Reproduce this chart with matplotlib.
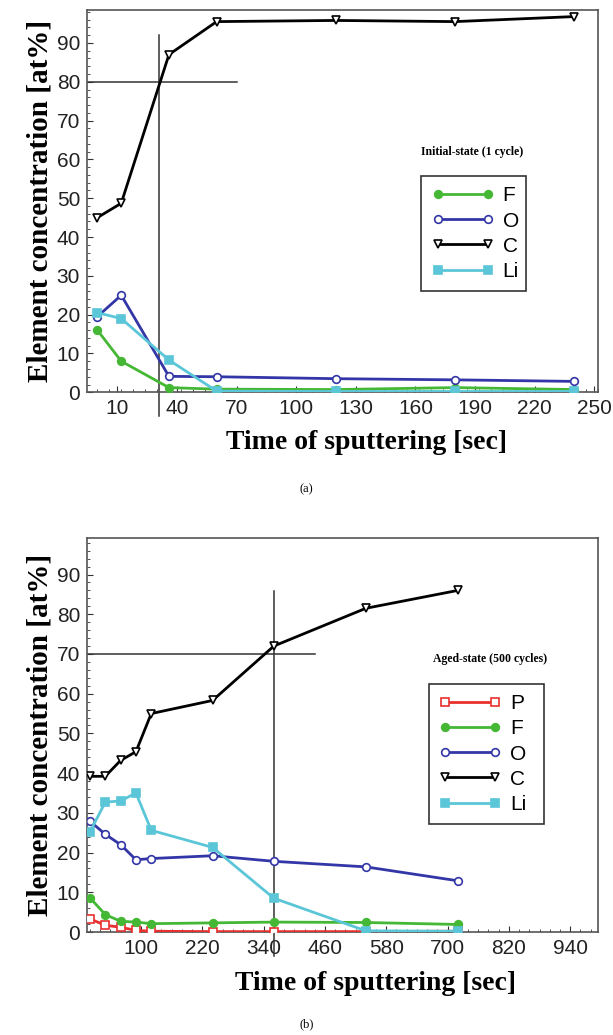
import matplotlib
matplotlib.use("Agg")
from matplotlib import pyplot as plt
from matplotlib.ticker import MultipleLocator

# panel (a) - initial state
t_a = [0, 12, 36, 60, 120, 180, 240]
F_a = [16, 8, 1.2, 0.8, 0.7, 1.2, 0.7]
O_a = [19.5, 25, 4.1, 4.0, 3.5, 3.2, 2.8]
C_a = [45, 48.7, 87, 95.5, 95.8, 95.5, 96.8]
Li_a = [20.5, 19, 8.3, 0.3, 0.2, 0.2, 0.2]
ticks_a = [10, 40, 70, 100, 130, 160, 190, 220, 250]
cross_a = (31, 80)  # vertical line x, horizontal line y

# panel (b) - aged state
t_b = [0, 30, 60, 90, 120, 240, 360, 540, 720]
P_b = [3.3, 1.7, 1.2, 0.4, 0.2, 0.1, 0.1, 0.1, 0.2]
F_b = [8.6, 4.4, 2.7, 2.5, 2.1, 2.3, 2.5, 2.4, 1.9]
O_b = [27.9, 24.6, 22, 18.2, 18.5, 19.2, 17.8, 16.4, 12.9]
C_b = [39.2, 39.2, 43.2, 45.4, 55, 58.3, 72, 81.5, 86]
Li_b = [25.2, 32.7, 33, 35, 25.6, 21.3, 8.5, 0.3, 0.2]
ticks_b = [100, 220, 340, 460, 580, 700, 820, 940]
cross_b = (360, 70)

styles = {
    "P": dict(color="#e8302e", marker="s", mfc="white", ms=5.5),
    "F": dict(color="#44b834", marker="o", mfc="#44b834", ms=5.5),
    "O": dict(color="#3236a6", marker="o", mfc="white", ms=5.5),
    "C": dict(color="black", marker="v", mfc="white", ms=6),
    "Li": dict(color="#5bc6d8", marker="s", mfc="#5bc6d8", ms=5.5),
}

sans = ["Liberation Sans", "DejaVu Sans"]
serif = ["Liberation Serif", "DejaVu Serif"]

fig = plt.figure(figsize=(6.13, 10.35), dpi=100)
ax1 = fig.add_axes([0.142, 0.621, 0.834, 0.369])
ax2 = fig.add_axes([0.142, 0.0995, 0.834, 0.3807])


def panel(ax, t, series, xlim, ylim, ticks, cross, hline_end, vline_top,
          title, title_xy, leg_box, minor_x, xlabel_x):
    for name, vals in series:
        st = styles[name]
        ax.plot(t, vals, color=st["color"], lw=2, marker=st["marker"],
                mfc=st["mfc"], mec=st["color"], mew=1.2, ms=st["ms"],
                label=name, zorder=3)
    vx, hy = cross
    ax.plot([xlim[0], hline_end], [hy, hy], color="#333333", lw=1.1, zorder=2)
    ax.plot([vx, vx], [ylim[0] - 6, vline_top], color="#333333", lw=1.1,
            zorder=2, clip_on=False)
    ax.set_xlim(xlim)
    ax.set_ylim(ylim)
    ax.set_xticks(ticks)
    ax.set_yticks(range(0, 100, 10))
    ax.xaxis.set_minor_locator(MultipleLocator(minor_x))
    ax.yaxis.set_minor_locator(MultipleLocator(2))
    ax.tick_params(which="both", direction="in", top=False, right=False,
                   labelsize=15, colors="#333333", pad=5)
    ax.tick_params(which="major", length=4)
    ax.tick_params(which="minor", length=2.5)
    for lab in ax.get_xticklabels() + ax.get_yticklabels():
        lab.set_family(sans)
        lab.set_color("#222222")
    for sp in ax.spines.values():
        sp.set_color("#555555")
        sp.set_linewidth(1.2)
    ax.set_ylabel("Element concentration [at%]", family=serif,
                  fontweight="bold", fontsize=21, labelpad=2)
    ax.set_xlabel("Time of sputtering [sec]", family=serif,
                  fontweight="bold", fontsize=20)
    ax.xaxis.set_label_coords(xlabel_x, -0.10)
    ax.xaxis.label.set_va("top")
    ax.text(title_xy[0], title_xy[1], title, transform=ax.transAxes,
            family=serif, fontweight="bold", fontsize=8.5, ha="center",
            va="center")
    leg = ax.legend(loc="lower left", bbox_to_anchor=leg_box, mode="expand",
                    numpoints=2, handlelength=3.0,
                    prop={"family": sans, "size": 15}, fancybox=False,
                    framealpha=1, borderaxespad=0, labelspacing=0.3,
                    borderpad=0.5, handletextpad=0.4)
    leg.get_frame().set_edgecolor("#333333")
    leg.get_frame().set_linewidth(1.2)


panel(ax1, t_a, [("F", F_a), ("O", O_a), ("C", C_a), ("Li", Li_a)],
      (-5.2, 252), (0, 98.4), ticks_a, cross_a, 70, 92,
      "Initial-state (1 cycle)", (0.753, 0.63),
      (0.654, 0.264, 0.205, 0.287), 6, 0.547)
panel(ax2, t_b, [("P", P_b), ("F", F_b), ("O", O_b), ("C", C_b), ("Li", Li_b)],
      (-5.7, 995), (0, 99.2), ticks_b, cross_b, 440, 85.8,
      "Aged-state (500 cycles)", (0.788, 0.693),
      (0.668, 0.273, 0.225, 0.344), 20, 0.565)

fig.text(0.5, 0.527, "(a)", family=serif, fontsize=9, ha="center", va="center")
fig.text(0.5, 0.01, "(b)", family=serif, fontsize=9, ha="center", va="center")

fig.savefig("out.png", dpi=100)
